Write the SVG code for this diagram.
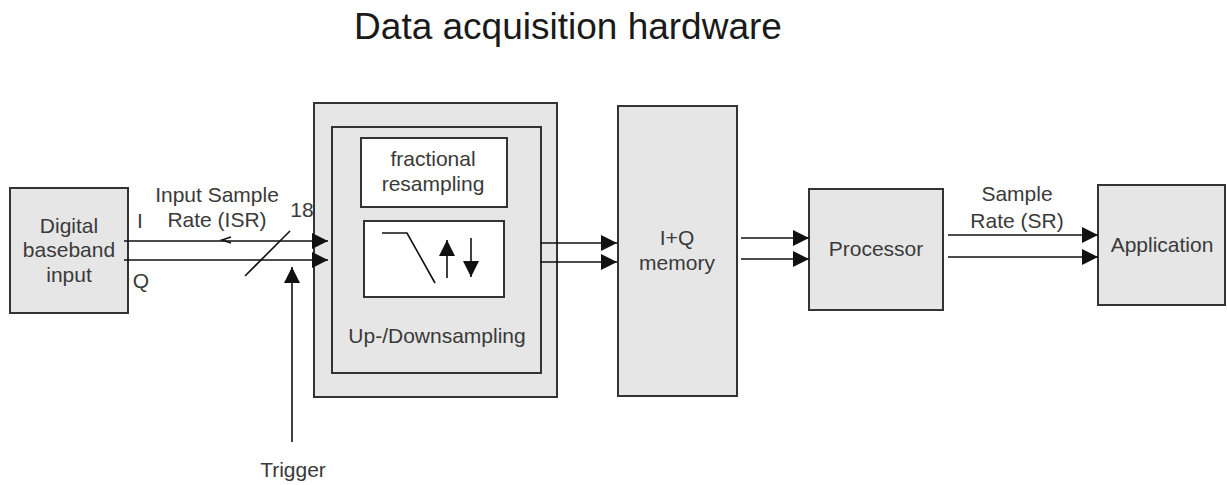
<svg xmlns="http://www.w3.org/2000/svg" width="1227" height="485" viewBox="0 0 1227 485">
<defs>
<style>
.box{fill:#e6e6e6;stroke:#333;stroke-width:2}
.wbox{fill:#fff;stroke:#333;stroke-width:2}
.lbl{font-family:"Liberation Sans",Arial,sans-serif;font-size:21px;fill:#3a3a3a;text-anchor:middle}
.title{font-family:"Liberation Sans",Arial,sans-serif;font-size:37px;fill:#1a1a1a;text-anchor:middle}
.ln{stroke:#111;stroke-width:1.6;fill:none}
</style>
<marker id="ah" markerUnits="userSpaceOnUse" markerWidth="17" markerHeight="16" refX="16" refY="8" orient="auto">
<path d="M0,0 L16,8 L0,16 z" fill="#111"/>
</marker>
</defs>
<rect width="1227" height="485" fill="#fff"/>
<text class="title" x="568" y="39">Data acquisition hardware</text>

<g id="digital">
<rect class="box" x="10" y="188" width="118" height="125"/>
<text class="lbl" x="69" y="233">Digital</text>
<text class="lbl" x="69" y="257">baseband</text>
<text class="lbl" x="69" y="282">input</text>
</g>

<g id="daq">
<rect class="box" x="314" y="103" width="243" height="294"/>
<rect class="box" x="332" y="127" width="209" height="246"/>
<g id="fractional">
<rect class="wbox" x="361" y="138" width="146" height="69"/>
<text class="lbl" x="433" y="166">fractional</text>
<text class="lbl" x="433" y="191">resampling</text>
</g>
<g id="filter">
<rect class="wbox" x="364" y="221" width="140" height="76"/>
<polyline class="ln" points="382,233 407,233 435,283"/>
<line class="ln" x1="447" y1="278" x2="447" y2="240" marker-end="url(#ah)"/>
<line class="ln" x1="471" y1="238" x2="471" y2="277" marker-end="url(#ah)"/>
</g>
<text class="lbl" x="437" y="343">Up-/Downsampling</text>
</g>

<g id="memory">
<rect class="box" x="618" y="106" width="119" height="290"/>
<text class="lbl" x="677" y="245">I+Q</text>
<text class="lbl" x="677" y="270">memory</text>
</g>

<g id="processor">
<rect class="box" x="809" y="189" width="134" height="121"/>
<text class="lbl" x="876" y="256">Processor</text>
</g>

<g id="application">
<rect class="box" x="1098" y="185" width="127" height="120"/>
<text class="lbl" x="1162" y="252">Application</text>
</g>

<g id="connectors">
<line class="ln" x1="124" y1="241" x2="328" y2="241" marker-end="url(#ah)"/>
<line class="ln" x1="124" y1="260" x2="328" y2="260" marker-end="url(#ah)"/>
<polyline class="ln" points="231,237 222,240 231,243" stroke-width="1"/>
<line class="ln" x1="245" y1="276" x2="290" y2="231"/>
<line class="ln" x1="292" y1="442" x2="292" y2="267" marker-end="url(#ah)"/>
<line class="ln" x1="540" y1="243" x2="617" y2="243" marker-end="url(#ah)"/>
<line class="ln" x1="540" y1="262" x2="617" y2="262" marker-end="url(#ah)"/>
<line class="ln" x1="741" y1="238" x2="809" y2="238" marker-end="url(#ah)"/>
<line class="ln" x1="741" y1="259" x2="809" y2="259" marker-end="url(#ah)"/>
<line class="ln" x1="948" y1="235" x2="1098" y2="235" marker-end="url(#ah)"/>
<line class="ln" x1="948" y1="257" x2="1098" y2="257" marker-end="url(#ah)"/>
</g>

<text class="lbl" x="140" y="228">I</text>
<text class="lbl" x="141" y="288">Q</text>
<text class="lbl" x="217" y="202">Input Sample</text>
<text class="lbl" x="217" y="227">Rate (ISR)</text>
<text class="lbl" x="302" y="217">18</text>
<text class="lbl" x="1017" y="201">Sample</text>
<text class="lbl" x="1017" y="228">Rate (SR)</text>
<text class="lbl" x="293" y="477">Trigger</text>
</svg>
